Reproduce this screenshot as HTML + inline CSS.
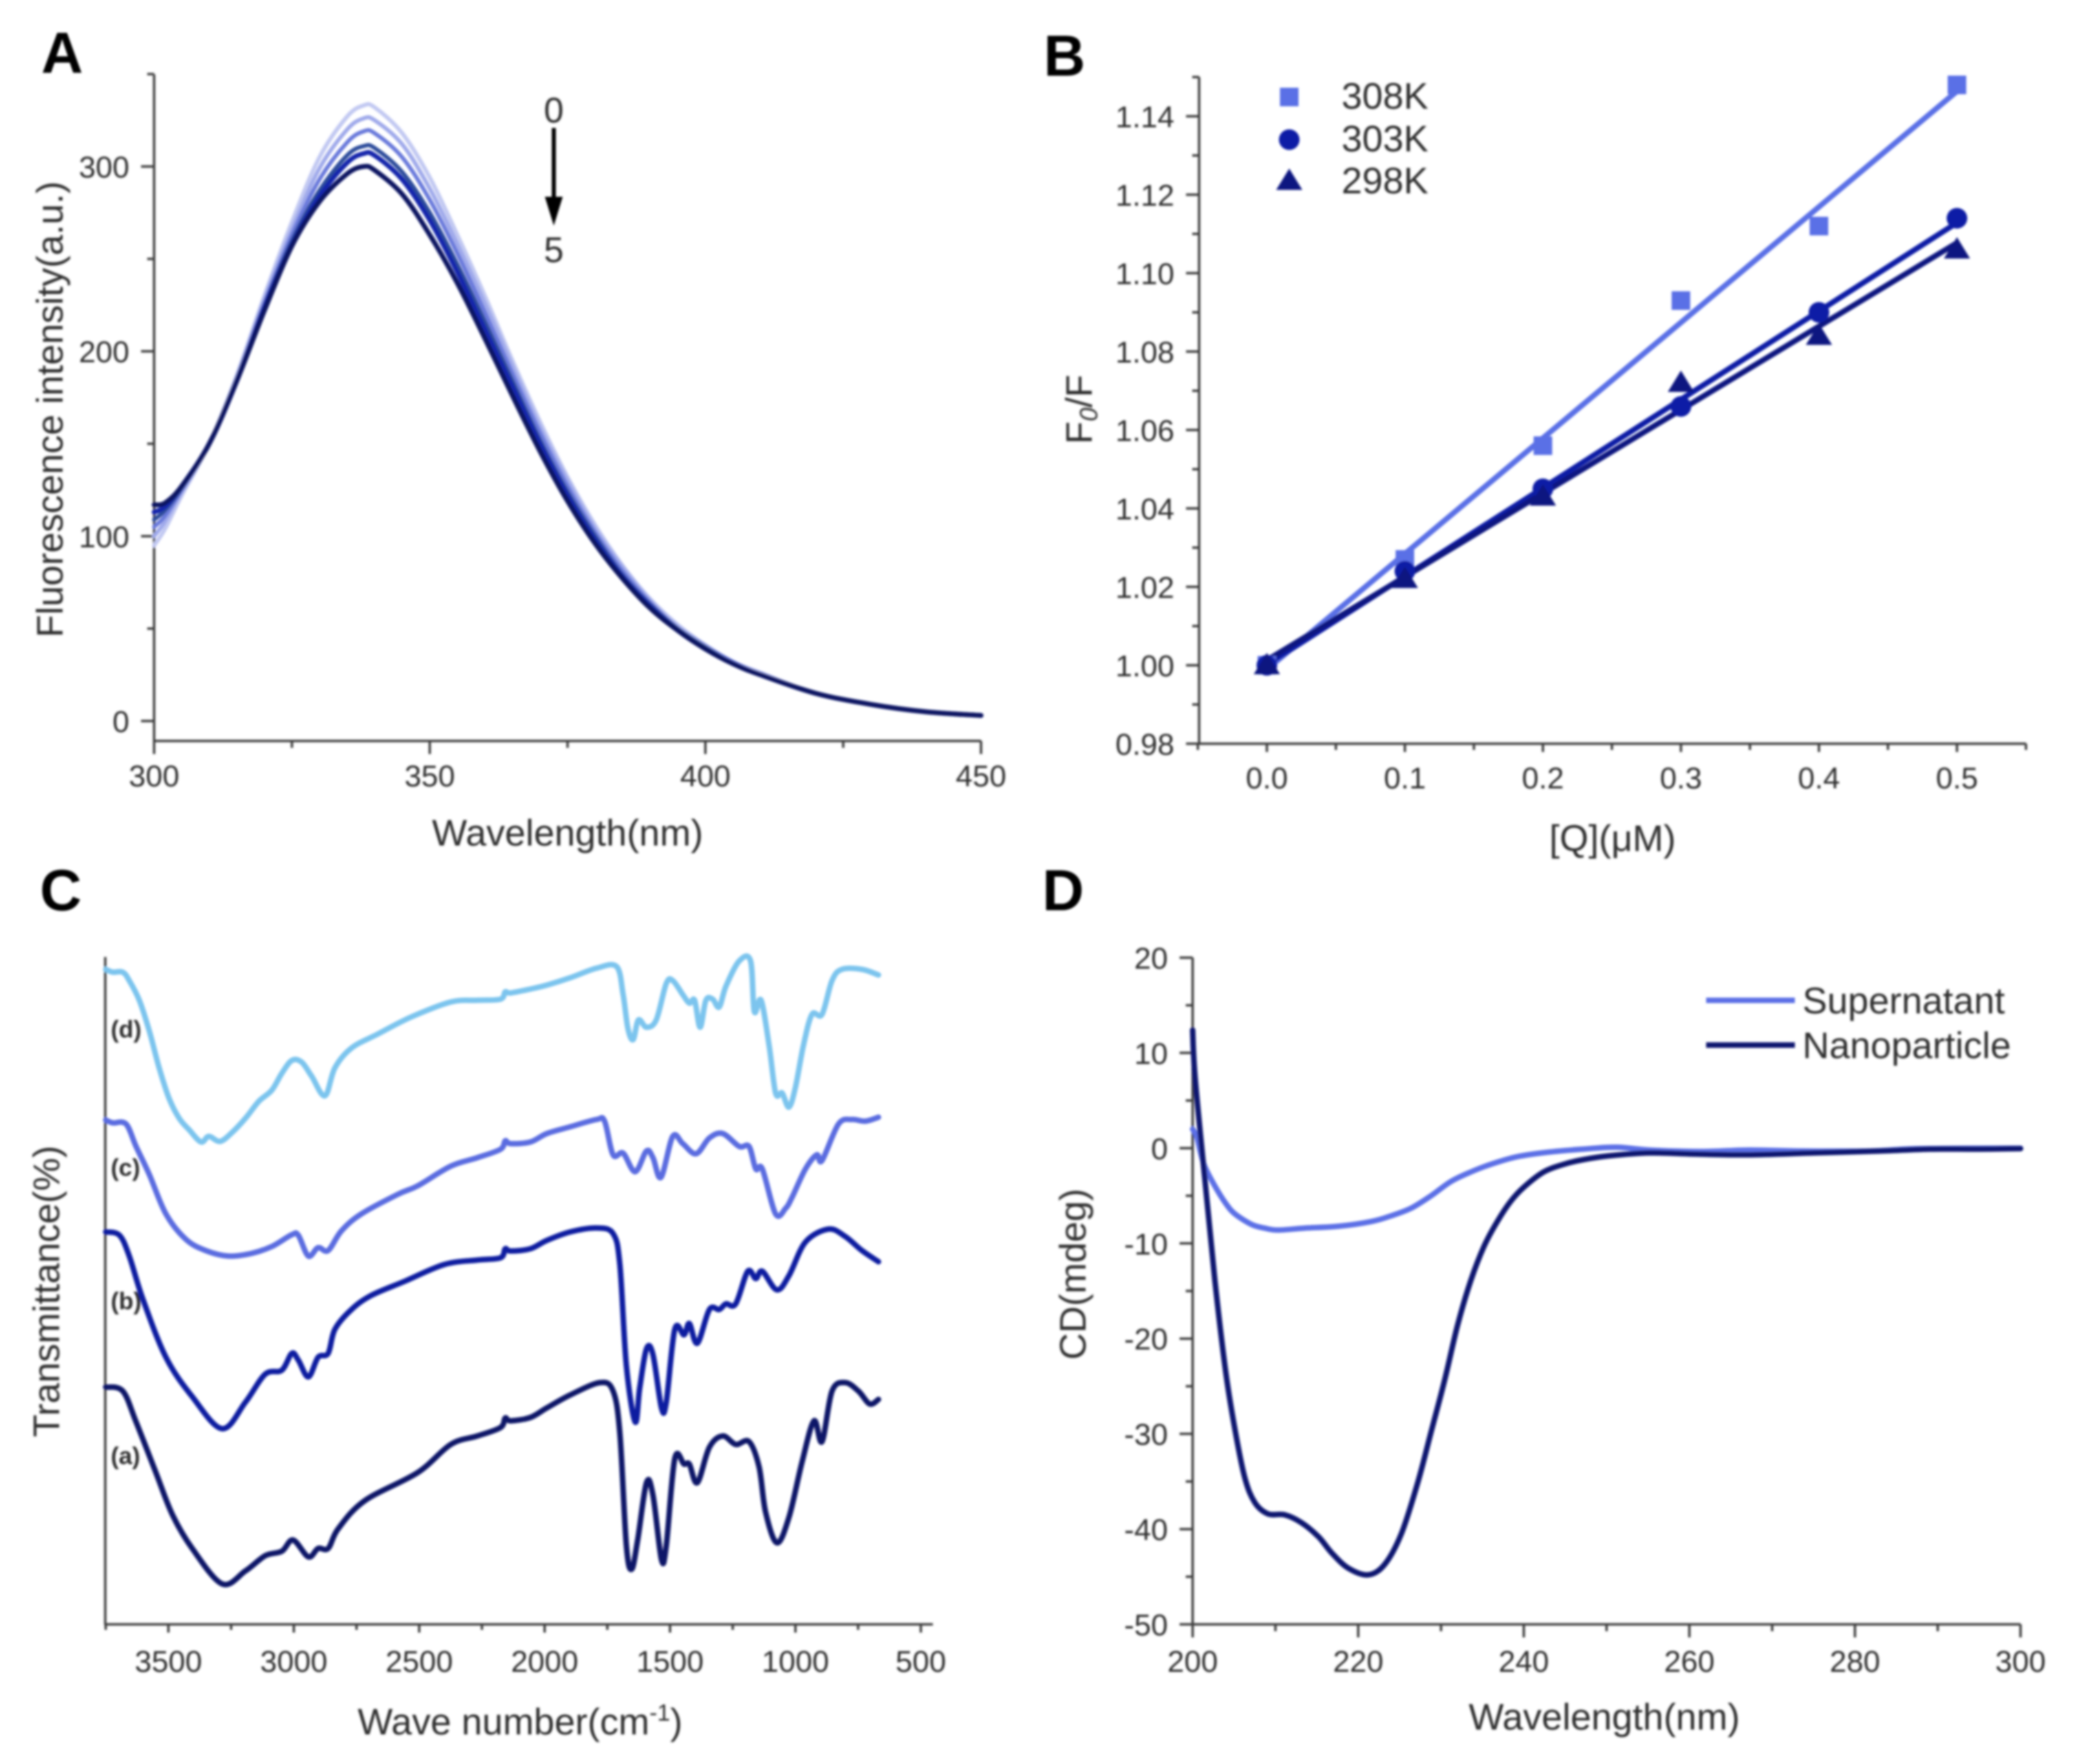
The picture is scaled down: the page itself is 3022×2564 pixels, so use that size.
<!DOCTYPE html>
<html lang="en">
<head>
<meta charset="utf-8">
<title>Fluorescence, Stern-Volmer, FTIR and CD spectra</title>
<style>
html,body{margin:0;padding:0;background:#fff;width:3022px;height:2564px;overflow:hidden}
svg{display:block}
text{font-family:"Liberation Sans",Arial,sans-serif;fill:#2e2e2e}
.tick{font-size:44px}
.title{font-size:54px}
.panel{font-size:84px;font-weight:700;fill:#000}
</style>
</head>
<body>
<svg id="fig" xmlns="http://www.w3.org/2000/svg" width="3022" height="2564" viewBox="0 0 3022 2564">
<defs>
<filter id="soft" filterUnits="userSpaceOnUse" x="0" y="0" width="3022" height="2564"><feGaussianBlur stdDeviation="1.5"/></filter>
</defs>
<rect width="3022" height="2564" fill="#fff"/>
<g id="root" filter="url(#soft)">
  <text class="panel" x="60" y="106">A</text>
  <text class="panel" x="1517" y="110">B</text>
  <text class="panel" x="58" y="1323">C</text>
  <text class="panel" x="1515" y="1323">D</text>

  <text class="title" x="825" y="1229" text-anchor="middle">Wavelength(nm)</text>
  <text class="title" transform="translate(91,595) rotate(-90)" text-anchor="middle">Fluorescence intensity(a.u.)</text>
  <text x="805" y="178" font-size="52" text-anchor="middle">0</text>
  <line x1="805" y1="186" x2="805" y2="292" stroke="#000" stroke-width="6"/>
  <polygon points="792,286 818,286 805,328" fill="#000"/>
  <text x="805" y="381" font-size="52" text-anchor="middle">5</text>

  <text class="title" x="2344" y="1237" text-anchor="middle">[Q](μM)</text>
  <text class="title" transform="translate(1587,595) rotate(-90)" text-anchor="middle">F<tspan font-size="36" font-style="italic" dy="8">0</tspan><tspan dy="-8">/F</tspan></text>
  <text class="title" x="1950" y="158" font-size="55">308K</text>
  <text class="title" x="1950" y="220" font-size="55">303K</text>
  <text class="title" x="1950" y="281" font-size="55">298K</text>

  <text class="title" x="756" y="2521" text-anchor="middle">Wave number(cm<tspan font-size="34" dy="-20">-1</tspan><tspan dy="20">)</tspan></text>
  <text class="title" transform="translate(86,1877) rotate(-90)" text-anchor="middle">Transmittance(%)</text>
  <text x="161" y="1508" font-size="35" font-weight="700">(d)</text>
  <text x="161" y="1709" font-size="35" font-weight="700">(c)</text>
  <text x="161" y="1903" font-size="35" font-weight="700">(b)</text>
  <text x="161" y="2128" font-size="35" font-weight="700">(a)</text>

  <text class="title" x="2332" y="2514" text-anchor="middle">Wavelength(nm)</text>
  <text class="title" transform="translate(1578,1852) rotate(-90)" text-anchor="middle">CD(mdeg)</text>
  <line x1="2480" y1="1454" x2="2609" y2="1454" stroke="#5b6fe6" stroke-width="8"/>
  <line x1="2480" y1="1519" x2="2609" y2="1519" stroke="#0b1470" stroke-width="8"/>
  <text class="title" x="2620" y="1473" font-size="55">Supernatant</text>
  <text class="title" x="2620" y="1538" font-size="55">Nanoparticle</text>
</g>
</svg>
<script>
// ---------- Panel A data ----------
const aWavelengths = [300,302,305,310,315,320,325,330,335,338,340,345,350,355,360,365,370,375,380,385,390,395,400,405,410,420,430,440,450];
const aSeries0 = [95,104,122,150,187,230,270,305,327,333,332,318,294,263,230,195,162,132,106,84,66,52,41,32,26,15,9,5,3];
const aSeries1 = [100,108,124,150,186,228,266,299,320,326,325,312,288,258,226,192,159,130,104,83,65,51,41,32,26,15,9,5,3];
const aSeries2 = [105,111,125,150,185,226,263,293,313,319,318,305,282,253,221,188,156,127,102,81,64,50,40,32,25,15,9,5,3];
const aSeries3 = [109,114,126,150,185,225,260,287,306,311,310,297,275,247,216,184,152,124,100,79,63,50,40,31,25,15,9,5,3];
const aSeries4 = [113,116,127,150,184,224,258,284,302,307,306,293,271,243,212,181,150,122,98,78,62,49,39,31,25,15,9,5,3];
const aSeries5 = [117,118,127,150,184,222,257,281,296,300,298,285,263,237,207,176,146,119,96,77,61,49,39,31,25,15,9,5,3];
const aXTicks = ['300','350','400','450'];
const aXMinor = [325,375,425];
const aYTicks = ['0','100','200','300'];
const aYMinor = [50,150,250,350];

// ---------- Panel B data ----------
const bConcentrations = [0,0.1,0.2,0.3,0.4,0.5];
const b308K = [1.000,1.027,1.056,1.093,1.112,1.148];
const b303K = [1.000,1.024,1.045,1.066,1.090,1.114];
const b298K = [1.000,1.022,1.043,1.072,1.084,1.106];
const bXTicks = ['0.0','0.1','0.2','0.3','0.4','0.5'];
const bXMinor = [-0.05,0.05,0.15,0.25,0.35,0.45,0.55];
const bYTicks = ['0.98','1.00','1.02','1.04','1.06','1.08','1.10','1.12','1.14'];
const bYMinor = [0.99,1.01,1.03,1.05,1.07,1.09,1.11,1.13,1.15];

// ---------- Panel C data (transmittance in arbitrary units) ----------
const cWaveD = [3750,3722,3682,3656,3616,3576,3537,3497,3457,3418,3370,3339,3294,3246,3193,3140,3088,3048,3008,2969,2929,2876,2836,2770,2665,2533,2374,2268,2176,2157,2136,2057,1991,1898,1793,1713,1687,1668,1647,1626,1594,1555,1515,1489,1449,1423,1402,1380,1357,1330,1304,1277,1224,1179,1164,1137,1105,1079,1053,1026,1000,968,934,894,854,815,735,669];
const cTransD = [1165,1160,1160,1145,1110,1055,990,935,900,880,858,868,859,875,900,930,950,980,1003,1000,975,940,990,1025,1050,1080,1107,1110,1112,1125,1123,1130,1137,1150,1167,1170,1120,1060,1040,1075,1062,1075,1140,1145,1120,1105,1110,1062,1110,1112,1098,1135,1180,1180,1090,1110,1030,945,945,920,955,1030,1085,1085,1145,1165,1165,1155];
const cWaveC = [3750,3722,3669,3629,3576,3510,3431,3352,3259,3167,3088,3008,2982,2942,2903,2863,2810,2731,2585,2506,2374,2268,2176,2157,2136,2057,1991,1898,1793,1761,1727,1687,1639,1594,1568,1536,1489,1449,1396,1343,1290,1224,1185,1158,1132,1079,1039,1013,960,915,894,828,775,722,669];
const cTransC = [897,892,890,850,800,730,685,665,655,660,672,693,692,655,670,665,700,730,765,780,815,830,845,860,855,858,873,885,898,895,835,838,805,842,830,795,868,855,837,865,873,850,850,810,810,730,740,760,810,835,825,890,898,895,902];
const cWaveB = [3750,3695,3656,3603,3510,3405,3286,3193,3114,3048,3008,2982,2942,2903,2863,2836,2770,2691,2559,2400,2268,2176,2157,2136,2057,1991,1898,1793,1727,1700,1674,1639,1621,1594,1568,1534,1515,1481,1444,1423,1391,1343,1304,1277,1238,1190,1158,1132,1074,1026,960,868,802,735,669];
const cTransB = [698,692,655,580,475,405,348,395,445,452,482,470,440,475,482,525,560,585,610,640,648,652,668,664,668,683,698,705,695,640,460,360,420,490,480,385,395,525,515,535,500,560,560,570,570,628,615,628,595,620,680,703,690,665,645];
const cWaveA = [3750,3682,3629,3550,3484,3405,3286,3193,3114,3048,3003,2942,2903,2863,2823,2717,2506,2374,2268,2176,2157,2136,2057,1991,1898,1779,1727,1700,1674,1653,1629,1594,1568,1534,1515,1481,1444,1423,1391,1343,1290,1238,1185,1145,1119,1074,1026,973,926,894,854,802,749,704,669];
const cTransA = [422,415,360,270,195,135,72,95,122,130,150,120,135,135,170,220,270,320,335,350,367,362,368,385,408,430,415,340,140,98,150,252,230,115,140,295,285,285,252,315,335,320,325,280,200,145,190,290,362,325,415,430,415,392,400];
const cXTicks = ['3500','3000','2500','2000','1500','1000','500'];
const cXMinor = [3750,3250,2750,2250,1750,1250,750];

// ---------- Panel D data ----------
const dWaveNano = [200,200.3,201.5,202.7,204,205.1,206.3,207.5,209.1,211.1,213.1,215.2,216.8,218.8,221.2,223.2,225.2,227.2,228.8,230.4,232,233.6,235.2,236.8,238.4,240,242.4,244.8,247.2,250.4,255.2,260,267,275,283,289,295,300];
const dCdNano = [12.4,7.4,-3.5,-14,-23.5,-29.5,-34.6,-37.2,-38.4,-38.5,-39.3,-40.8,-42.5,-44.1,-44.8,-43.7,-40.5,-35.1,-29.8,-24.5,-18.6,-13.9,-10.3,-7.7,-5.6,-4.1,-2.5,-1.7,-1.2,-0.8,-0.5,-0.6,-0.7,-0.5,-0.3,-0.1,-0.1,-0.05];
const dWaveSuper = [200,200.5,201,201.5,202.7,204,205.1,207.1,208.7,210.3,213.5,217.6,221.6,224,226.4,228.8,231.2,233.6,236,239.2,243.2,247.2,251.2,255.2,261.6,267.2,273.6,281.6,288,300];
const dCdSuper = [2,1.2,-0.6,-2,-4,-5.8,-6.9,-8,-8.4,-8.6,-8.4,-8.2,-7.7,-7.1,-6.3,-5,-3.5,-2.5,-1.7,-0.9,-0.4,-0.1,0.1,-0.2,-0.35,-0.2,-0.3,-0.3,-0.05,0];
const dXTicks = ['200','220','240','260','280','300'];
const dXMinor = [210,230,250,270,290];
const dYTicks = ['20','10','0','-10','-20','-30','-40','-50'];
const dYMinor = [15,5,-5,-15,-25,-35,-45];

// ---------- helpers ----------
const NS = 'http://www.w3.org/2000/svg';
const root = document.getElementById('root');
function make(tag, attrs, text) {
  const el = document.createElementNS(NS, tag);
  for (const k in attrs) el.setAttribute(k, attrs[k]);
  if (text !== undefined) el.textContent = text;
  root.appendChild(el);
  return el;
}
function linear(d0, d1, r0, r1) {
  return function (v) { return r0 + (v - d0) * (r1 - r0) / (d1 - d0); };
}
function smoothPath(px, py) {
  let d = 'M' + px[0].toFixed(1) + ' ' + py[0].toFixed(1);
  const n = px.length;
  for (let i = 0; i < n - 1; i++) {
    const a = Math.max(i - 1, 0), b = Math.min(i + 2, n - 1);
    const c1x = px[i] + (px[i + 1] - px[a]) / 6, c1y = py[i] + (py[i + 1] - py[a]) / 6;
    const c2x = px[i + 1] - (px[b] - px[i]) / 6, c2y = py[i + 1] - (py[b] - py[i]) / 6;
    d += 'C' + c1x.toFixed(1) + ' ' + c1y.toFixed(1) + ' ' + c2x.toFixed(1) + ' ' + c2y.toFixed(1) + ' ' + px[i + 1].toFixed(1) + ' ' + py[i + 1].toFixed(1);
  }
  return d;
}
function drawCurve(xs, ys, sx, sy, color, width, name) {
  const el = make('path', {
    d: smoothPath(xs.map(sx), ys.map(sy)),
    fill: 'none', stroke: color, 'stroke-width': width,
    'stroke-linejoin': 'round', 'stroke-linecap': 'round'
  });
  
  
  return el;
}
const AX = '#3c3c3c';
function drawAxes(prefix, o) {
  const yAxis = make('line', { x1: o.left, x2: o.left, y1: o.top, y2: o.bottom, stroke: AX, 'stroke-width': 3.5 });
  
  
  const xAxis = make('line', { x1: o.left - 1.5, x2: o.right, y1: o.bottom, y2: o.bottom, stroke: AX, 'stroke-width': 3.5 });
  
  
  o.xTicks.forEach(function (lab) {
    const px = o.sx(Number(lab));
    const t = make('line', { x1: px, x2: px, y1: o.bottom, y2: o.bottom + o.xMajor, stroke: AX, 'stroke-width': 3.5 });
    
    
    const l = make('text', { class: 'tick', x: px, y: o.xLabelY, 'text-anchor': 'middle' }, lab);
    
    
  });
  o.xMinor.forEach(function (v) {
    const px = o.sx(v);
    const t = make('line', { x1: px, x2: px, y1: o.bottom, y2: o.bottom + o.xMinorLen, stroke: AX, 'stroke-width': 3.5 });
    
    
  });
  (o.yTicks || []).forEach(function (lab) {
    const py = o.sy(Number(lab));
    const t = make('line', { x1: o.left - 19, x2: o.left, y1: py, y2: py, stroke: AX, 'stroke-width': 3.5 });
    
    
    const l = make('text', { class: 'tick', x: o.left - 36, y: py + 16, 'text-anchor': 'end' }, lab);
    
    
  });
  (o.yMinor || []).forEach(function (v) {
    const py = o.sy(v);
    const t = make('line', { x1: o.left - 10, x2: o.left, y1: py, y2: py, stroke: AX, 'stroke-width': 3.5 });
    
    
  });
}
function regression(xs, ys) {
  const n = xs.length;
  const mx = xs.reduce(function (s, v) { return s + v; }, 0) / n;
  const my = ys.reduce(function (s, v) { return s + v; }, 0) / n;
  let num = 0, den = 0;
  xs.forEach(function (x, i) { num += (x - mx) * (ys[i] - my); den += (x - mx) * (x - mx); });
  const slope = num / den;
  return function (x) { return my + slope * (x - mx); };
}

// ---------- Panel A ----------
const ax = linear(300, 450, 224, 1426);
const ay = linear(0, 300, 1048, 242);
drawAxes('a', { left: 224, right: 1426, top: 108, bottom: 1077, sx: ax, sy: ay, xTicks: aXTicks, xMinor: aXMinor, yTicks: aYTicks, yMinor: aYMinor, xMajor: 19, xMinorLen: 10, xLabelY: 1143 });
drawCurve(aWavelengths, aSeries0, ax, ay, '#c2c9f2', 6, 'spectrum-0');
drawCurve(aWavelengths, aSeries1, ax, ay, '#a0aaeb', 6, 'spectrum-1');
drawCurve(aWavelengths, aSeries2, ax, ay, '#6a7adb', 6, 'spectrum-2');
drawCurve(aWavelengths, aSeries3, ax, ay, '#2f4e9c', 6, 'spectrum-3');
drawCurve(aWavelengths, aSeries4, ax, ay, '#1428ac', 7, 'spectrum-4');
drawCurve(aWavelengths, aSeries5, ax, ay, '#0a1262', 7, 'spectrum-5');

// ---------- Panel B ----------
const bx = linear(0, 0.5, 1841.5, 2844.6);
const by = linear(0.98, 1.14, 1081, 169);
drawAxes('b', { left: 1743, right: 2945, top: 112, bottom: 1081, sx: bx, sy: by, xTicks: bXTicks, xMinor: bXMinor, yTicks: bYTicks, yMinor: bYMinor, xMajor: 12, xMinorLen: 9, xLabelY: 1146 });
function fitLine(values, color, name) {
  const f = regression(bConcentrations, values);
  const first = bConcentrations[0], last = bConcentrations[bConcentrations.length - 1];
  const el = make('line', { x1: bx(first), y1: by(f(first)), x2: bx(last), y2: by(f(last)), stroke: color, 'stroke-width': 8, 'stroke-linecap': 'round' });
  
  
}
fitLine(b308K, '#5a6fe6', 'fit-line-308k');
fitLine(b303K, '#0e1ea6', 'fit-line-303k');
fitLine(b298K, '#0a1580', 'fit-line-298k');
function square(cx, cy, color) { return make('rect', { x: cx - 13.5, y: cy - 13.5, width: 27, height: 27, fill: color }); }
function circle(cx, cy, color) { return make('circle', { cx: cx, cy: cy, r: 15, fill: color }); }
function triangle(cx, cy, color) { return make('polygon', { points: (cx - 19) + ',' + (cy + 13) + ' ' + (cx + 19) + ',' + (cy + 13) + ' ' + cx + ',' + (cy - 18), fill: color }); }
b308K.forEach(function (v, i) {
  const m = square(bx(bConcentrations[i]), by(v), '#5a6fe6');
  
  
});
b303K.forEach(function (v, i) {
  const m = circle(bx(bConcentrations[i]), by(v), '#0e1ea6');
  
  
});
b298K.forEach(function (v, i) {
  const m = triangle(bx(bConcentrations[i]), by(v), '#0a1580');
  
  
});
const legS = square(1874, 141, '#5a6fe6');


const legC = circle(1874, 203, '#0e1ea6');


const legT = triangle(1874, 263, '#0a1580');



// ---------- Panel C ----------
const cx = linear(3500, 500, 244.8, 1338.5);
const cy = linear(0, 1187, 2361, 1391);
drawAxes('c', { left: 153, right: 1356, top: 1391, bottom: 2361, sx: cx, sy: cy, xTicks: cXTicks, xMinor: cXMinor, xMajor: 12, xMinorLen: 8, xLabelY: 2430 });
drawCurve(cWaveD, cTransD, cx, cy, '#7cc4ee', 8, 'ftir-curve-d');
drawCurve(cWaveC, cTransC, cx, cy, '#5a6ce0', 8, 'ftir-curve-c');
drawCurve(cWaveB, cTransB, cx, cy, '#0f1fa0', 8, 'ftir-curve-b');
drawCurve(cWaveA, cTransA, cx, cy, '#0b1568', 8, 'ftir-curve-a');

// ---------- Panel D ----------
const dx = linear(200, 300, 1733.6, 2937);
const dy = linear(20, -50, 1392, 2361);
drawAxes('d', { left: 1733.6, right: 2937, top: 1392, bottom: 2361, sx: dx, sy: dy, xTicks: dXTicks, xMinor: dXMinor, yTicks: dYTicks, yMinor: dYMinor, xMajor: 19, xMinorLen: 10, xLabelY: 2430 });
drawCurve(dWaveSuper, dCdSuper, dx, dy, '#5b6fe6', 8, 'cd-curve-supernatant');
drawCurve(dWaveNano, dCdNano, dx, dy, '#0b1470', 8, 'cd-curve-nanoparticle');
</script>
</body>
</html>
